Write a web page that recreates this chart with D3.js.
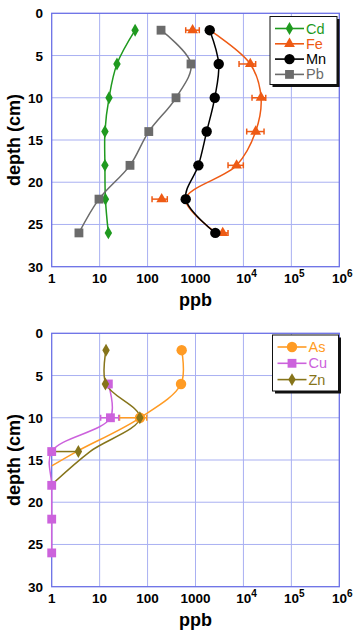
<!DOCTYPE html>
<html><head><meta charset="utf-8">
<script src="https://cdn.jsdelivr.net/npm/d3@7"></script>
<style>body{margin:0;background:#fff}svg{display:block}</style>
</head><body>
<svg id="c" width="355" height="635"></svg>
<script>
// ---- data ----
const depths = [2, 6, 10, 14, 18, 22, 26];
const xTicks = [1, 10, 100, 1000, 1e4, 1e5, 1e6];
const xTickLabels = [["1"], ["10"], ["100"], ["1000"], ["10", "4"], ["10", "5"], ["10", "6"]];
const yTicks = [0, 5, 10, 15, 20, 25, 30];

// top panel
const cd = [55, 23, 15.7, 12.9, 12.9, 13.2, 15.2];
const fe = [870, 13900, 23300, 18000, 7200, 197, 3700];
const feErrLo = [625, 8100, 15100, 11700, 4770, 124, 2770];
const feErrHi = [1200, 18000, 29200, 26900, 9950, 258, 4770];
const feFit = [1977, 13900, 23300, 18000, 7240, 625, 2700];
const mn = [1980, 3050, 2520, 1710, 1150, 625, 2590];
const pb = [191, 806, 392, 106, 43, 9.7, 3.7];

// bottom panel
const asDepth = [2, 6, 10];
const asVals = [515, 499, 69.5];
const asErrLo = [null, null, 26];
const asErrHi = [null, null, 96];
const asFitDepth = [2, 6, 10, 14, 15.7];
const asFit = [515, 499, 69.5, 3.3, 1];

const cuDepth = [6, 10, 14, 18, 22, 26];
const cuVals = [15.2, 16.8, 1, 1, 1, 1];
const cuErrLo = [null, 10.5, null, null, null, null];
const cuErrHi = [null, 25, null, null, null, null];

const znDepth = [2, 6, 10, 14];
const znVals = [13.6, 13.2, 69, 3.6];
const znErrLo = [null, null, null, 1.05];
const znErrHi = [null, null, null, 3.6];
const znFitDepth = [2, 6, 10, 14, 17.6];
const znFit = [13.6, 13.5, 69, 6.3, 1.15];

// ---- drawing ----
const svg = d3.select("#c");
const X0 = 51.7, X1 = 339.3;
const x = d3.scaleLog().domain([1, 1e6]).range([X0, X1]);
const FONT = "'Liberation Sans', Arial, Helvetica, sans-serif";

function panel(top, bottom) {
  const y = d3.scaleLinear().domain([0, 30]).range([top, bottom]);
  const g = svg.append("g");
  g.selectAll(".gx").data(xTicks.slice(1, -1)).enter().append("line")
    .attr("x1", d => x(d)).attr("x2", d => x(d)).attr("y1", top).attr("y2", bottom)
    .attr("stroke", "#a9b0f2").attr("stroke-width", 1);
  g.selectAll(".gy").data(yTicks.slice(1, -1)).enter().append("line")
    .attr("y1", d => y(d)).attr("y2", d => y(d)).attr("x1", X0).attr("x2", X1)
    .attr("stroke", "#a9b0f2").attr("stroke-width", 1);
  g.append("rect").attr("x", X0).attr("y", top).attr("width", X1 - X0).attr("height", bottom - top)
    .attr("fill", "none").attr("stroke", "#6b70e6").attr("stroke-width", 1.3);
  g.selectAll(".ty").data(yTicks).enter().append("text")
    .attr("x", 43).attr("y", d => y(d) + 5).attr("text-anchor", "end")
    .attr("font-family", FONT).attr("font-weight", "bold").attr("font-size", 13.5)
    .text(d => d);
  const tx = g.selectAll(".tx").data(xTicks).enter().append("text")
    .attr("x", (d, i) => x(d) + (xTickLabels[i].length > 1 ? 3 : 0)).attr("y", bottom + 16)
    .attr("text-anchor", "middle")
    .attr("font-family", FONT).attr("font-weight", "bold").attr("font-size", 13.5);
  tx.each(function (d, i) {
    const t = d3.select(this);
    t.append("tspan").text(xTickLabels[i][0]);
    if (xTickLabels[i].length > 1) t.append("tspan").attr("dy", -6).attr("font-size", 10).text(xTickLabels[i][1]);
  });
  g.append("text").attr("x", (X0 + X1) / 2).attr("y", bottom + 39).attr("text-anchor", "middle")
    .attr("font-family", FONT).attr("font-weight", "bold").attr("font-size", 18).text("ppb");
  g.append("text").attr("transform", `translate(20,${(top + bottom) / 2}) rotate(-90)`)
    .attr("text-anchor", "middle")
    .attr("font-family", FONT).attr("font-weight", "bold").attr("font-size", 18).text("depth (cm)");
  return y;
}

const lineGen = (y) => d3.line().x(d => x(d[0])).y(d => y(d[1])).curve(d3.curveCatmullRom.alpha(0.5));

function drawLine(y, vals, ds, color) {
  svg.append("path").datum(vals.map((v, i) => [v, ds[i]]))
    .attr("d", lineGen(y)).attr("fill", "none").attr("stroke", color).attr("stroke-width", 1.5);
}
function drawErr(y, lo, hi, ds, color) {
  ds.forEach((dp, i) => {
    if (lo[i] == null) return;
    const yy = y(dp);
    svg.append("line").attr("x1", x(lo[i])).attr("x2", x(hi[i])).attr("y1", yy).attr("y2", yy)
      .attr("stroke", color).attr("stroke-width", 1.5);
    [lo[i], hi[i]].forEach(v => svg.append("line").attr("x1", x(v)).attr("x2", x(v))
      .attr("y1", yy - 3).attr("y2", yy + 3).attr("stroke", color).attr("stroke-width", 1.5));
  });
}
const sym = {
  circle: d3.symbol().type(d3.symbolCircle).size(85),
  square: d3.symbol().type(d3.symbolSquare).size(78),
  diamond: d3.symbol().type(d3.symbolDiamond).size(48),
  triangle: d3.symbol().type(d3.symbolTriangle).size(50)
};
function drawMarkers(y, vals, ds, color, shape) {
  svg.append("g").selectAll("path").data(vals).enter().append("path")
    .attr("transform", (v, i) => `translate(${x(v)},${y(ds[i])})`)
    .attr("d", sym[shape]()).attr("fill", color);
}
function legend(bx, by, w, h, items, rowH) {
  svg.append("rect").attr("x", bx + 2.5).attr("y", by + 2.5).attr("width", w).attr("height", h).attr("fill", "#111");
  svg.append("rect").attr("x", bx).attr("y", by).attr("width", w).attr("height", h)
    .attr("fill", "#fff").attr("stroke", "#111").attr("stroke-width", 1);
  items.forEach((it, i) => {
    const yy = by + 12 + i * rowH;
    svg.append("line").attr("x1", bx + 5).attr("x2", bx + 34).attr("y1", yy).attr("y2", yy)
      .attr("stroke", it.color).attr("stroke-width", 1.6);
    svg.append("path").attr("transform", `translate(${bx + 19.5},${yy})`)
      .attr("d", sym[it.shape]()).attr("fill", it.color);
    svg.append("text").attr("x", bx + 36).attr("y", yy + 5)
      .attr("font-family", FONT).attr("font-size", 14.5).attr("fill", it.color).text(it.name);
  });
}

const C = { cd: "#1f9a1f", fe: "#ee5a14", mn: "#000000", pb: "#6b6b6b", as: "#ff9b24", cu: "#cc62dc", zn: "#86741a" };

const yT = panel(13.3, 266.7);
drawLine(yT, cd, depths, C.cd);
drawLine(yT, pb, depths, C.pb);
drawLine(yT, feFit, depths, C.fe);
drawLine(yT, mn, depths, C.mn);
drawErr(yT, feErrLo, feErrHi, depths, C.fe);
drawMarkers(yT, cd, depths, C.cd, "diamond");
drawMarkers(yT, pb, depths, C.pb, "square");
drawMarkers(yT, fe, depths, C.fe, "triangle");
drawMarkers(yT, mn, depths, C.mn, "circle");
legend(270, 16.5, 67, 68, [
  { name: "Cd", color: C.cd, shape: "diamond" },
  { name: "Fe", color: C.fe, shape: "triangle" },
  { name: "Mn", color: C.mn, shape: "circle" },
  { name: "Pb", color: C.pb, shape: "square" }], 15.3);

const yB = panel(333.3, 586.7);
drawLine(yB, asFit, asFitDepth, C.as);
drawLine(yB, cuVals, cuDepth, C.cu);
drawLine(yB, znFit, znFitDepth, C.zn);
drawErr(yB, asErrLo, asErrHi, asDepth, C.as);
drawErr(yB, cuErrLo, cuErrHi, cuDepth, C.cu);
drawErr(yB, znErrLo, znErrHi, znDepth, C.zn);
drawMarkers(yB, asVals, asDepth, C.as, "circle");
drawMarkers(yB, cuVals, cuDepth, C.cu, "square");
drawMarkers(yB, znVals, znDepth, C.zn, "diamond");
legend(272.5, 335, 66, 56, [
  { name: "As", color: C.as, shape: "circle" },
  { name: "Cu", color: C.cu, shape: "square" },
  { name: "Zn", color: C.zn, shape: "diamond" }], 16.3);
</script>
</body></html>
